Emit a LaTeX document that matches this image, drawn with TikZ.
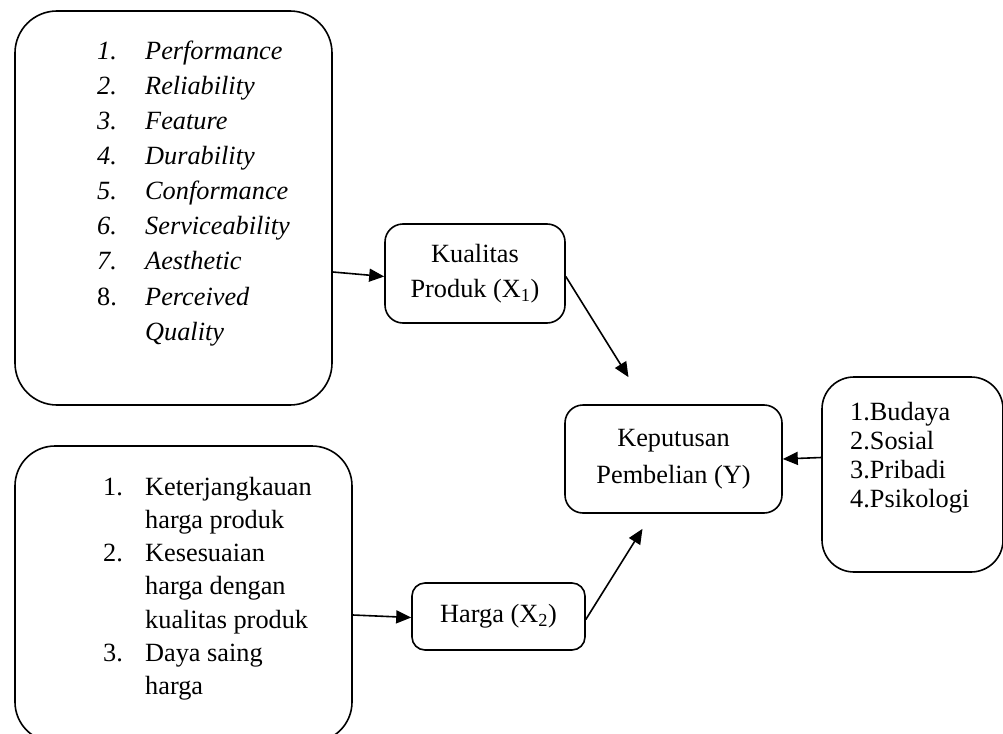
\documentclass[tikz,border=0pt]{standalone}
\usepackage{fontspec}
\setmainfont{Liberation Serif}
\usetikzlibrary{arrows.meta}
\begin{document}
\begin{tikzpicture}[x=1pt,y=-1pt,
  box/.style={draw, line width=1.6pt, rounded corners=#1, inner sep=0pt, align=center,
    font=\fontsize{26.3}{35}\selectfont},
  lst/.style={inner sep=0pt, anchor=base west},
  arr/.style={line width=1.6pt, -{Triangle[length=15pt,width=13pt]}}]
\useasboundingbox (0,0) rectangle (1003,733);
\clip (0,0) rectangle (1003,733);
% boxes
\node[box=42pt, minimum width=317pt, minimum height=394pt] (A) at (173.5,208) {};
\node[box=40pt, minimum width=337pt, minimum height=296pt] (B) at (183.5,594) {};
\node[box=18pt, minimum width=180pt, minimum height=99pt] (K) at (475,273.5) {Kualitas\\Produk (X\textsubscript{1})};
\node[box=18pt, minimum width=217pt, minimum height=108pt, font=\fontsize{26.3}{37}\selectfont] (Y) at (673.5,459) {Keputusan\\Pembelian (Y)};
\node[box=13pt, minimum width=173pt, minimum height=67pt] (H) at (498.5,616.5) {Harga (X\textsubscript{2})};
\node[box=32pt, minimum width=181pt, minimum height=195pt] (R) at (912.5,474.5) {};
% texts
\node[lst] (At) at (97,60) {\parbox[t]{240pt}{\fontsize{26.3}{35}\selectfont\raggedright
\makebox[48pt][l]{\itshape 1.}\textit{Performance}\\
\makebox[48pt][l]{\itshape 2.}\textit{Reliability}\\
\makebox[48pt][l]{\itshape 3.}\textit{Feature}\\
\makebox[48pt][l]{\itshape 4.}\textit{Durability}\\
\makebox[48pt][l]{\itshape 5.}\textit{Conformance}\\
\makebox[48pt][l]{\itshape 6.}\textit{Serviceability}\\
\makebox[48pt][l]{\itshape 7.}\textit{Aesthetic}\\
\makebox[48pt][l]{8.}\textit{Perceived}\\
\hspace*{48pt}\textit{Quality}}};
\node[lst] (Bt) at (103,495) {\parbox[t]{240pt}{\fontsize{26.3}{33.3}\selectfont\raggedright
\makebox[42pt][l]{1.}Keterjangkauan\\
\hspace*{42pt}harga produk\\
\makebox[42pt][l]{2.}Kesesuaian\\
\hspace*{42pt}harga dengan\\
\hspace*{42pt}kualitas produk\\
\makebox[42pt][l]{3.}Daya saing\\
\hspace*{42pt}harga}};
\node[lst] (Rt) at (850,420) {\parbox[t]{150pt}{\fontsize{26.3}{29}\selectfont\raggedright
1.Budaya\\2.Sosial\\3.Pribadi\\4.Psikologi}};
% connectors
\draw[arr] ([yshift=-64pt]A.east) -- ([yshift=-3pt]K.west);
\draw[arr] ([yshift=-3pt]K.east) -- ([xshift=-45pt,yshift=27pt]Y.north);
\draw[arr] ([yshift=-21pt]B.east) -- ([yshift=-1pt]H.west);
\draw[arr] ([yshift=-3pt]H.east) -- ([xshift=-31pt,yshift=-15pt]Y.south);
\draw[arr] ([yshift=17pt]R.west) -- (Y.east);
\end{tikzpicture}
\end{document}
